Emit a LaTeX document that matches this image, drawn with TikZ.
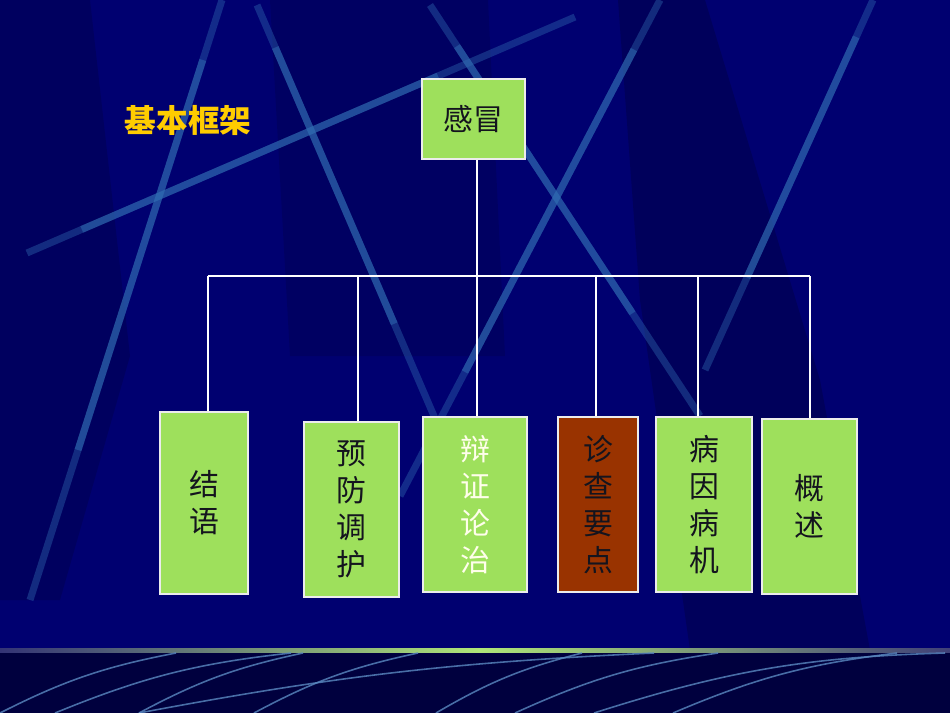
\documentclass[tikz,border=0pt]{standalone}
\usepackage{fontspec}
\setmainfont{Noto Sans CJK SC}
\usetikzlibrary{calc}

\definecolor{navy}{RGB}{0,0,112}
\definecolor{deepnavy}{RGB}{0,0,62}
\definecolor{streak}{RGB}{48,108,178}
\definecolor{leaf}{RGB}{158,224,92}
\definecolor{glow}{RGB}{175,230,120}
\definecolor{rust}{RGB}{153,51,0}
\definecolor{gold}{RGB}{255,204,0}
\definecolor{ink}{RGB}{20,20,30}

\tikzset{
	card/.style={draw=white!85!gray, line width=0.9pt, fill=leaf, text=ink, inner sep=0pt, align=center, font=\fontsize{17}{21}\selectfont},
	wire/.style={white, line width=0.75pt},
	streakline/.style={streak, line width=4pt},
	floorline/.style={streak!80!white, line width=0.9pt, opacity=0.8},
}

\begin{document}
\begin{tikzpicture}[x=0.02cm, y=-0.02cm]
	\useasboundingbox (0,0) rectangle (950,713);
	\fill[navy] (0,0) rectangle (950,713);
	\fill[black, opacity=0.15] (0,0) -- (90,0) -- (130,356) -- (60,600) -- (0,600) -- cycle;
	\fill[black, opacity=0.12] (270,0) -- (488,0) -- (505,356) -- (290,356) -- cycle;
	\fill[black, opacity=0.18] (618,0) -- (705,0) -- (820,380) -- (870,650) -- (690,650) -- (640,300) -- cycle;

	\foreach \xa/\ya/\xb/\yb in {222/0/30/600, 257/5/440/430, 27/253/575/17, 430/5/700/416, 660/0/400/496, 873/0/705/370}{
			\draw[streakline, opacity=0.4] (\xa,\ya) -- (\xb,\yb);
			\draw[streakline, opacity=0.5] ($(\xa,\ya)!0.1!(\xb,\yb)$) -- ($(\xa,\ya)!0.75!(\xb,\yb)$);
		}

	\fill[deepnavy] (0,651) rectangle (950,713);
	\shade[left color=navy!60!gray, right color=glow] (0,648) rectangle (479,652.5);
	\shade[left color=glow, right color=navy!50!gray] (479,648) rectangle (950,652.5);

	\foreach \xa/\xb in {0/176, 55/291, 139/303, 254/418, 436/582, 515/718, 594/945, 673/897}{
			\draw[floorline] (\xa,713) to[bend left=8] (\xb,653);
		}
	\draw[floorline] (139,713) to[bend left=4] (654,653);

	\node[font=\bfseries\fontsize{18}{22}\selectfont, text=gold] (title) at (188,120) {基本框架};
	\node[card, minimum width=2.06cm, minimum height=1.6cm] (ganmao) at (473.5,119) {感冒};

	\node[card, minimum width=1.76cm, minimum height=3.64cm] (jieyu) at (204,503) {结\\语};
	\node[card, minimum width=1.9cm, minimum height=3.5cm] (yufang) at (351.5,509.5) {预\\防\\调\\护};
	\node[card, minimum width=2.08cm, minimum height=3.5cm, text=white!92!yellow] (bianzheng) at (475,504.5) {辩\\证\\论\\治};
	\node[card, minimum width=1.6cm, minimum height=3.5cm, fill=rust] (zhencha) at (598,504.5) {诊\\查\\要\\点};
	\node[card, minimum width=1.92cm, minimum height=3.5cm] (bingyin) at (704,504.5) {病\\因\\病\\机};
	\node[card, minimum width=1.9cm, minimum height=3.5cm] (gaishu) at (809.5,506.5) {概\\述};

	\coordinate (hub) at (477,276);
	\draw[wire] (ganmao.south -| hub) -- (hub);
	\foreach \name/\x in {jieyu/208, yufang/358, bianzheng/477, zhencha/596, bingyin/698, gaishu/810}{
			\coordinate (\name-drop) at (\x,276);
			\draw[wire] (\name-drop) -- (\name-drop |- \name.north);
		}
	\draw[wire] (jieyu-drop) -- (gaishu-drop);

\end{tikzpicture}
\end{document}
